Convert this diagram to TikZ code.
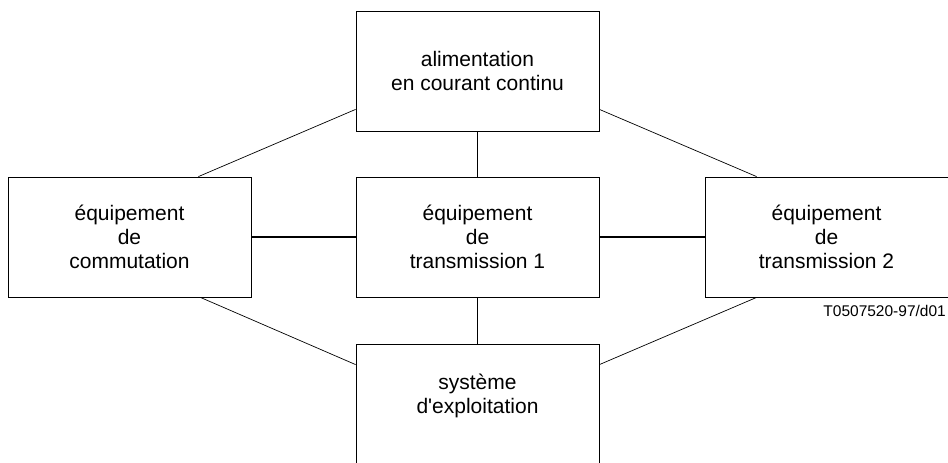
\documentclass[tikz,border=0pt]{standalone}
\usepackage{fontspec}
\newfontfamily\diagfont{Liberation Sans}

\begin{document}
\begin{tikzpicture}[x = 1pt, y = -1pt,
  box/.style = {draw, line width = 0.8pt, minimum width = 243pt, minimum height = 120pt, inner sep = 0pt, align = center, font = \diagfont\fontsize{21}{24}\selectfont},
  link/.style = {line width = 1.6pt},
  slant/.style = {line width = 0.7pt}]

\useasboundingbox (0, 0) rectangle (948, 463);

 \node[box] (dc) at (477.5, 71) {alimentation\\en courant continu};
 \node[box] (sw) at (129.5, 237) {équipement\\de\\commutation};
 \node[box] (tr1) at (477.5, 237) {équipement\\de\\transmission 1};
 \node[box] (tr2) at (826.5, 237) {équipement\\de\\transmission 2};
 \node[box, text depth = 21pt] (ops) at (477.5, 404) {système\\d'exploitation};

 \node[anchor = east, inner sep = 0pt, font = \diagfont\fontsize{15.5}{18}\selectfont] (code) at (946, 311) {T0507520-97/d01};

  \foreach \a/\b in {dc/tr1, tr1/ops, sw/tr1, tr1/tr2} {
	\draw[link] (\a) -- (\b);
}

  \draw[slant] ([yshift = 22pt] dc.south west) -- ([xshift = -53pt] sw.north east);
  \draw[slant] ([yshift = 22pt] dc.south east) -- ([xshift = 52pt] tr2.north west);
  \draw[slant] ([xshift = -51pt] sw.south east) -- ([yshift = -21pt] ops.north west);
  \draw[slant] ([xshift = 52pt] tr2.south west) -- ([yshift = -21pt] ops.north east);
\end{tikzpicture}
\end{document}
